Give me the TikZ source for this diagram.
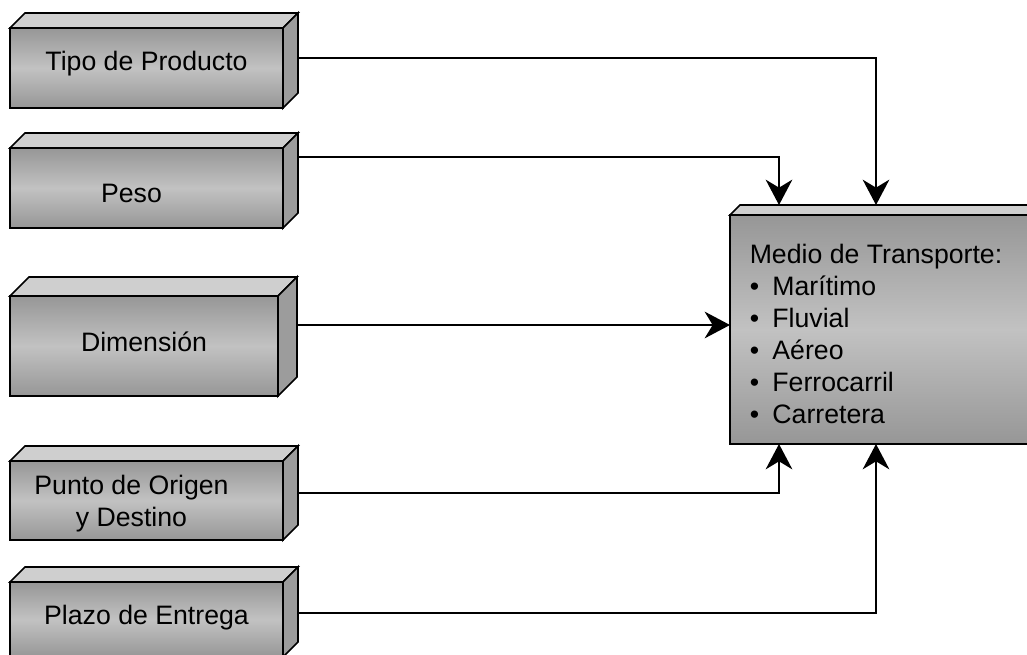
\documentclass[tikz,border=0pt]{standalone}
\usepackage{fontspec}
\setmainfont{Liberation Sans}
\usetikzlibrary{arrows.meta}

\begin{document}
\begin{tikzpicture}[x=0.75pt,y=-0.75pt,
 caja/.style={draw,line width=1.3pt,outer sep=0pt,inner sep=0pt,
  top color=gray!82,bottom color=gray!82,middle color=gray!48},
 tapa/.style={draw,line width=1.3pt,fill=gray!38},
 lado/.style={draw,line width=1.3pt,fill=gray!78},
 texto/.style={font=\fontsize{20}{24}\selectfont,align=center,inner sep=0pt},
 flecha/.style={line width=1.3pt,-{Stealth[length=19pt,width=20pt,inset=6pt]}}]

\useasboundingbox (0,0) rectangle (1027,655);
\clip (0,0) rectangle (1027,655);

\def\px{0.75pt}
\newcommand{\caja}[8][0,0] % [text shift]{name}{x}{y}{w}{h}{depth}{text}
{
 \node[caja,anchor=north west,minimum width=#5*\px,minimum height=#6*\px] (#2) at (#3,#4) {};
 \draw[tapa] (#2.north west) -- ++(#7,-#7)
   -- ([shift={(#7,-#7)}]#2.north east) -- (#2.north east) -- cycle;
 \draw[lado] (#2.north east) -- ++(#7,-#7)
   -- ([shift={(#7,-#7)}]#2.south east) -- (#2.south east) -- cycle;
 \node[texto] (#2-t) at ([shift={(#1)}]#2.center) {#8};
}
\newcommand{\vin}{\textbullet\hspace{0.5em}}

% factores
\caja[0,-4]{tipo}{10}{28}{273}{80}{15}{Tipo de Producto}
\caja[-15,5]{peso}{10}{148}{273}{80}{15}{Peso}
\caja[0,-4]{dimension}{10}{296}{268}{100}{19}{Dimensión}
\caja[-15,3]{punto}{10}{461}{273}{79}{15}{Punto de Origen\\y Destino}
\caja[0,-2]{plazo}{10}{582}{273}{75}{15}{Plazo de Entrega}

% medio de transporte
\caja[-14,8]{medio}{730}{215}{320}{229}{10}{\begin{tabular}{@{}l@{}}
 Medio de Transporte:\\
 \vin Marítimo\\
 \vin Fluvial\\
 \vin Aéreo\\
 \vin Ferrocarril\\
 \vin Carretera
\end{tabular}}

\coordinate (dim-s) at ([shift={(19,-21)}]dimension.east);

\draw[flecha] ([shift={(15,-10)}]tipo.east) -| ([shift={(146,-10)}]medio.north west);
\draw[flecha] ([shift={(15,-31)}]peso.east) -| ([shift={(49,-10)}]medio.north west);
\draw[flecha] (dim-s) -- (dim-s -| medio.west);
\draw[flecha] ([shift={(15,-7.5)}]punto.east) -| ([xshift=49*\px]medio.south west);
\draw[flecha] ([shift={(15,-6.5)}]plazo.east) -| ([xshift=146*\px]medio.south west);

\end{tikzpicture}
\end{document}
